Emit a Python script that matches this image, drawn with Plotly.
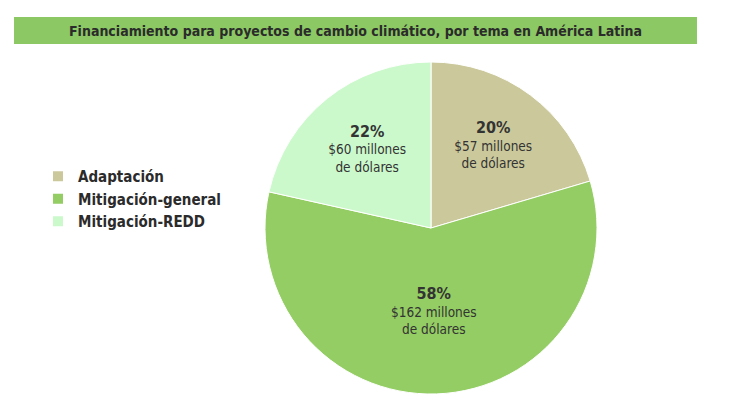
import plotly.graph_objects as go

labels = ["Adaptación", "Mitigación-general", "Mitigación-REDD"]
values = [57, 162, 60]
percents = ["20%", "58%", "22%"]
colors = ["#cbc99b", "#93cd63", "#ccf9cc"]
title = "Financiamiento para proyectos de cambio climático, por tema en América Latina"

texts = [f"<span style='font-size:16px'><b>{p}</b></span><br>${v} millones<br>de dólares"
         for p, v in zip(percents, values)]

# page has an 8px body margin; coordinates below are figure pixels (page px - 8)
W, H = 730, 400
cx, cy, r = 423, 220, 166

fig = go.Figure(go.Pie(
    labels=labels, values=values, text=texts,
    textinfo="text", textposition="inside", insidetextorientation="horizontal",
    sort=False, direction="clockwise", rotation=0,
    marker=dict(colors=colors, line=dict(color="#ffffff", width=1)),
    textfont=dict(family="DejaVu Sans Condensed, DejaVu Sans", size=13.5, color="#333333"),
    hoverinfo="label+percent",
    domain=dict(x=[(cx - r) / W, (cx + r) / W], y=[1 - (cy + r) / H, 1 - (cy - r) / H]),
))

fig.add_shape(type="rect", xref="paper", yref="paper",
              x0=6 / W, x1=689 / W, y0=1 - 36 / H, y1=1 - 9 / H,
              fillcolor="#8cc864", line=dict(width=0), layer="below")
fig.add_annotation(text=f"<b>{title}</b>", xref="paper", yref="paper",
                   x=347.5 / W, y=1 - 22.5 / H, xanchor="center", yanchor="middle", showarrow=False,
                   font=dict(family="DejaVu Sans Condensed, DejaVu Sans", size=14, color="#2b2b2b"))

fig.update_layout(
    width=W, height=H, margin=dict(l=0, r=0, t=0, b=0),
    paper_bgcolor="#ffffff", plot_bgcolor="#ffffff",
    showlegend=True,
    legend=dict(x=30 / W, y=1 - 152 / H, xanchor="left", yanchor="top",
                font=dict(family="DejaVu Sans Condensed, DejaVu Sans", size=15, color="#2b2b2b", weight="bold"),
                itemsizing="constant", tracegroupgap=0),
)

fig.write_html("out.html")
